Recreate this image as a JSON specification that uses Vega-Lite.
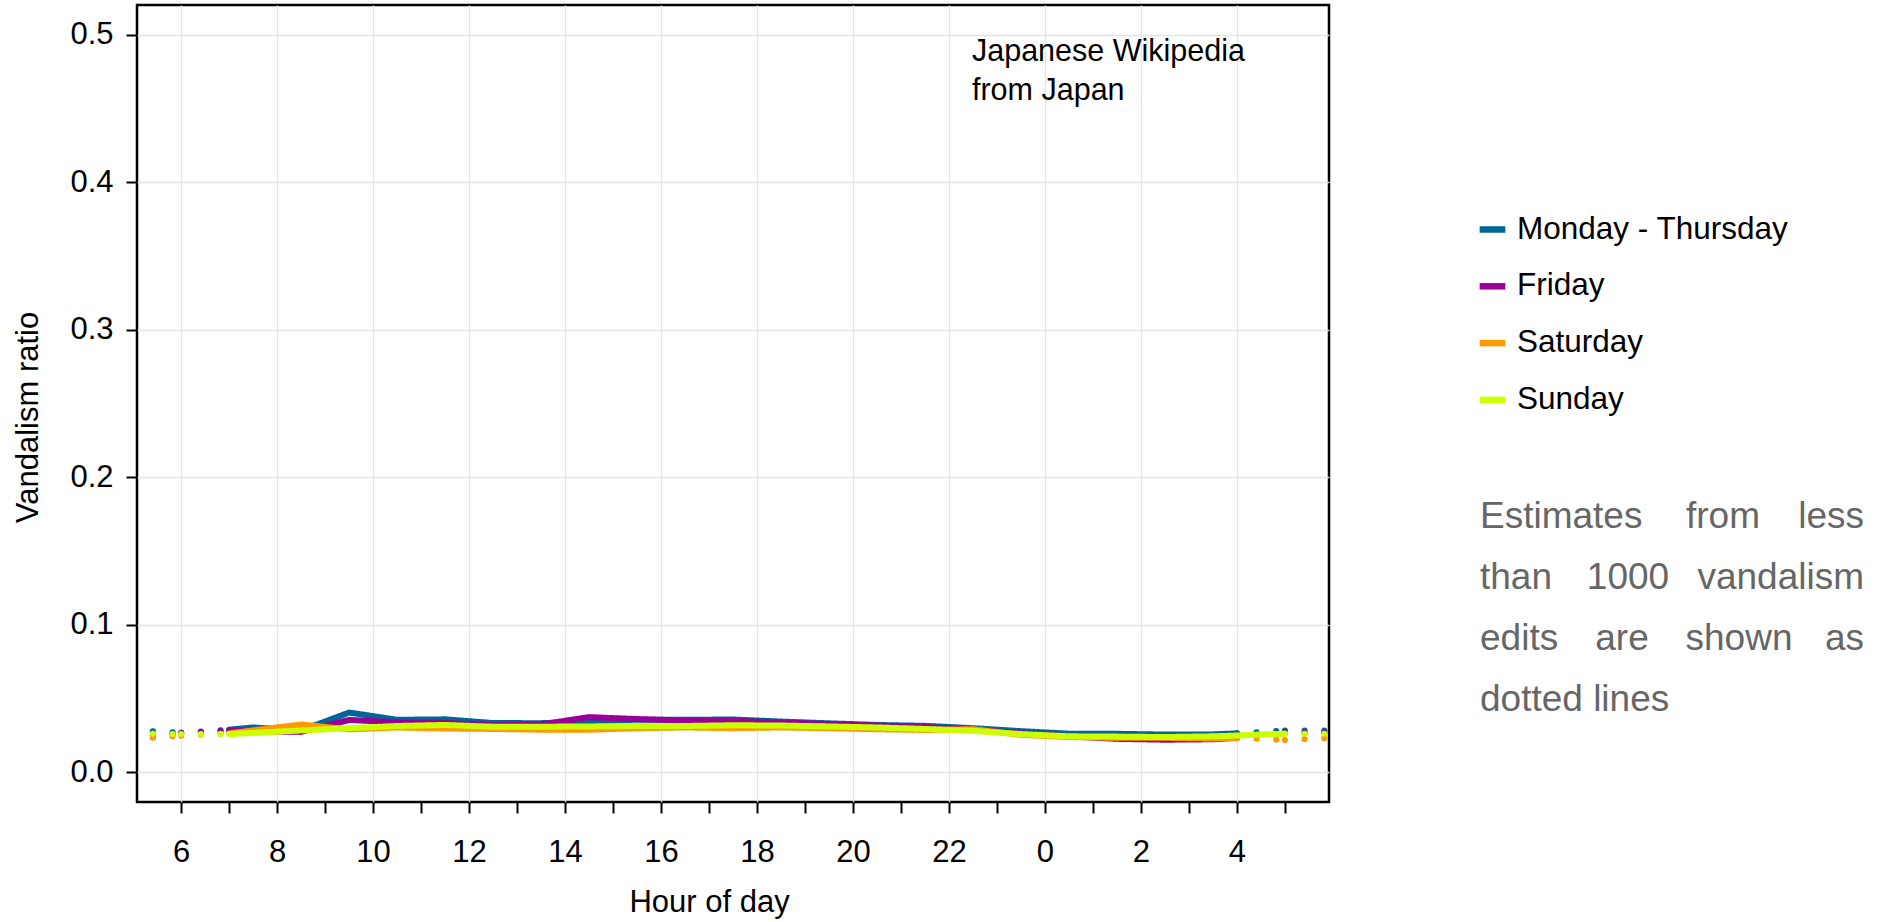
{
  "$schema": "https://vega.github.io/schema/vega-lite/v6.json",
  "width": 1192,
  "height": 797,
  "autosize": {"type": "none"},
  "padding": {"left": 137, "top": 5, "right": 553, "bottom": 120},
  "background": "white",
  "config": {
    "font": "Liberation Sans",
    "view": {"stroke": "#000000", "strokeWidth": 2.5}
  },
  "datasets": {
    "series": [
      {"d": "Monday - Thursday", "k": "dotted", "s": "a", "h": 5, "v": 0.0285},
      {"d": "Monday - Thursday", "k": "dotted", "s": "a", "h": 6, "v": 0.0270},
      {"d": "Monday - Thursday", "k": "dotted", "s": "b", "h": 6, "v": 0.0270},
      {"d": "Monday - Thursday", "k": "dotted", "s": "b", "h": 7, "v": 0.0290},
      {"d": "Monday - Thursday", "k": "solid", "s": "m", "h": 7, "v": 0.0290},
      {"d": "Monday - Thursday", "k": "solid", "s": "m", "h": 7.5, "v": 0.0305},
      {"d": "Monday - Thursday", "k": "solid", "s": "m", "h": 8.5, "v": 0.0285},
      {"d": "Monday - Thursday", "k": "solid", "s": "m", "h": 9.5, "v": 0.0406},
      {"d": "Monday - Thursday", "k": "solid", "s": "m", "h": 10.5, "v": 0.0357},
      {"d": "Monday - Thursday", "k": "solid", "s": "m", "h": 11.5, "v": 0.0360},
      {"d": "Monday - Thursday", "k": "solid", "s": "m", "h": 12.5, "v": 0.0335},
      {"d": "Monday - Thursday", "k": "solid", "s": "m", "h": 13.5, "v": 0.0334},
      {"d": "Monday - Thursday", "k": "solid", "s": "m", "h": 14.5, "v": 0.0345},
      {"d": "Monday - Thursday", "k": "solid", "s": "m", "h": 15.5, "v": 0.0358},
      {"d": "Monday - Thursday", "k": "solid", "s": "m", "h": 16.5, "v": 0.0357},
      {"d": "Monday - Thursday", "k": "solid", "s": "m", "h": 17.5, "v": 0.0359},
      {"d": "Monday - Thursday", "k": "solid", "s": "m", "h": 18.5, "v": 0.0345},
      {"d": "Monday - Thursday", "k": "solid", "s": "m", "h": 19.5, "v": 0.0333},
      {"d": "Monday - Thursday", "k": "solid", "s": "m", "h": 20.5, "v": 0.0322},
      {"d": "Monday - Thursday", "k": "solid", "s": "m", "h": 21.5, "v": 0.0316},
      {"d": "Monday - Thursday", "k": "solid", "s": "m", "h": 22.5, "v": 0.0300},
      {"d": "Monday - Thursday", "k": "solid", "s": "m", "h": 23.5, "v": 0.0280},
      {"d": "Monday - Thursday", "k": "solid", "s": "m", "h": 24.5, "v": 0.0263},
      {"d": "Monday - Thursday", "k": "solid", "s": "m", "h": 25.5, "v": 0.0262},
      {"d": "Monday - Thursday", "k": "solid", "s": "m", "h": 26.5, "v": 0.0257},
      {"d": "Monday - Thursday", "k": "solid", "s": "m", "h": 27.5, "v": 0.0258},
      {"d": "Monday - Thursday", "k": "solid", "s": "m", "h": 28, "v": 0.0265},
      {"d": "Monday - Thursday", "k": "dotted", "s": "c", "h": 28, "v": 0.0265},
      {"d": "Monday - Thursday", "k": "dotted", "s": "c", "h": 29, "v": 0.0285},
      {"d": "Monday - Thursday", "k": "dotted", "s": "e", "h": 29, "v": 0.0285},
      {"d": "Monday - Thursday", "k": "dotted", "s": "e", "h": 30, "v": 0.0285},

      {"d": "Friday", "k": "dotted", "s": "a", "h": 5, "v": 0.0240},
      {"d": "Friday", "k": "dotted", "s": "a", "h": 6, "v": 0.0265},
      {"d": "Friday", "k": "dotted", "s": "b", "h": 6, "v": 0.0265},
      {"d": "Friday", "k": "dotted", "s": "b", "h": 7, "v": 0.0285},
      {"d": "Friday", "k": "solid", "s": "m", "h": 7, "v": 0.0285},
      {"d": "Friday", "k": "solid", "s": "m", "h": 7.5, "v": 0.0280},
      {"d": "Friday", "k": "solid", "s": "m", "h": 8.5, "v": 0.0275},
      {"d": "Friday", "k": "solid", "s": "m", "h": 9.5, "v": 0.0356},
      {"d": "Friday", "k": "solid", "s": "m", "h": 10.5, "v": 0.0340},
      {"d": "Friday", "k": "solid", "s": "m", "h": 11.5, "v": 0.0335},
      {"d": "Friday", "k": "solid", "s": "m", "h": 12.5, "v": 0.0320},
      {"d": "Friday", "k": "solid", "s": "m", "h": 13.5, "v": 0.0325},
      {"d": "Friday", "k": "solid", "s": "m", "h": 14.5, "v": 0.0375},
      {"d": "Friday", "k": "solid", "s": "m", "h": 15.5, "v": 0.0362},
      {"d": "Friday", "k": "solid", "s": "m", "h": 16.5, "v": 0.0352},
      {"d": "Friday", "k": "solid", "s": "m", "h": 17.5, "v": 0.0350},
      {"d": "Friday", "k": "solid", "s": "m", "h": 18.5, "v": 0.0338},
      {"d": "Friday", "k": "solid", "s": "m", "h": 19.5, "v": 0.0328},
      {"d": "Friday", "k": "solid", "s": "m", "h": 20.5, "v": 0.0318},
      {"d": "Friday", "k": "solid", "s": "m", "h": 21.5, "v": 0.0308},
      {"d": "Friday", "k": "solid", "s": "m", "h": 22.5, "v": 0.0290},
      {"d": "Friday", "k": "solid", "s": "m", "h": 23.5, "v": 0.0265},
      {"d": "Friday", "k": "solid", "s": "m", "h": 24.5, "v": 0.0245},
      {"d": "Friday", "k": "solid", "s": "m", "h": 25.5, "v": 0.0228},
      {"d": "Friday", "k": "solid", "s": "m", "h": 26.5, "v": 0.0222},
      {"d": "Friday", "k": "solid", "s": "m", "h": 27.5, "v": 0.0225},
      {"d": "Friday", "k": "solid", "s": "m", "h": 28, "v": 0.0235},
      {"d": "Friday", "k": "dotted", "s": "c", "h": 28, "v": 0.0235},
      {"d": "Friday", "k": "dotted", "s": "c", "h": 29, "v": 0.0265},
      {"d": "Friday", "k": "dotted", "s": "e", "h": 29, "v": 0.0265},
      {"d": "Friday", "k": "dotted", "s": "e", "h": 30, "v": 0.0270},

      {"d": "Saturday", "k": "dotted", "s": "a", "h": 5, "v": 0.0225},
      {"d": "Saturday", "k": "dotted", "s": "a", "h": 6, "v": 0.0250},
      {"d": "Saturday", "k": "dotted", "s": "b", "h": 6, "v": 0.0250},
      {"d": "Saturday", "k": "dotted", "s": "b", "h": 7, "v": 0.0265},
      {"d": "Saturday", "k": "solid", "s": "m", "h": 7, "v": 0.0265},
      {"d": "Saturday", "k": "solid", "s": "m", "h": 7.5, "v": 0.0285},
      {"d": "Saturday", "k": "solid", "s": "m", "h": 8.5, "v": 0.0325},
      {"d": "Saturday", "k": "solid", "s": "m", "h": 9.5, "v": 0.0292},
      {"d": "Saturday", "k": "solid", "s": "m", "h": 10.5, "v": 0.0305},
      {"d": "Saturday", "k": "solid", "s": "m", "h": 11.5, "v": 0.0298},
      {"d": "Saturday", "k": "solid", "s": "m", "h": 12.5, "v": 0.0295},
      {"d": "Saturday", "k": "solid", "s": "m", "h": 13.5, "v": 0.0290},
      {"d": "Saturday", "k": "solid", "s": "m", "h": 14.5, "v": 0.0290},
      {"d": "Saturday", "k": "solid", "s": "m", "h": 15.5, "v": 0.0300},
      {"d": "Saturday", "k": "solid", "s": "m", "h": 16.5, "v": 0.0305},
      {"d": "Saturday", "k": "solid", "s": "m", "h": 17.5, "v": 0.0300},
      {"d": "Saturday", "k": "solid", "s": "m", "h": 18.5, "v": 0.0305},
      {"d": "Saturday", "k": "solid", "s": "m", "h": 19.5, "v": 0.0300},
      {"d": "Saturday", "k": "solid", "s": "m", "h": 20.5, "v": 0.0293},
      {"d": "Saturday", "k": "solid", "s": "m", "h": 21.5, "v": 0.0288},
      {"d": "Saturday", "k": "solid", "s": "m", "h": 22.5, "v": 0.0293},
      {"d": "Saturday", "k": "solid", "s": "m", "h": 23.5, "v": 0.0255},
      {"d": "Saturday", "k": "solid", "s": "m", "h": 24.5, "v": 0.0240},
      {"d": "Saturday", "k": "solid", "s": "m", "h": 25.5, "v": 0.0235},
      {"d": "Saturday", "k": "solid", "s": "m", "h": 26.5, "v": 0.0235},
      {"d": "Saturday", "k": "solid", "s": "m", "h": 27.5, "v": 0.0230},
      {"d": "Saturday", "k": "solid", "s": "m", "h": 28, "v": 0.0235},
      {"d": "Saturday", "k": "dotted", "s": "c", "h": 28, "v": 0.0235},
      {"d": "Saturday", "k": "dotted", "s": "c", "h": 29, "v": 0.0220},
      {"d": "Saturday", "k": "dotted", "s": "e", "h": 29, "v": 0.0220},
      {"d": "Saturday", "k": "dotted", "s": "e", "h": 30, "v": 0.0235},

      {"d": "Sunday", "k": "dotted", "s": "a", "h": 5, "v": 0.0265},
      {"d": "Sunday", "k": "dotted", "s": "a", "h": 6, "v": 0.0260},
      {"d": "Sunday", "k": "dotted", "s": "b", "h": 6, "v": 0.0260},
      {"d": "Sunday", "k": "dotted", "s": "b", "h": 7, "v": 0.0260},
      {"d": "Sunday", "k": "solid", "s": "m", "h": 7, "v": 0.0260},
      {"d": "Sunday", "k": "solid", "s": "m", "h": 7.5, "v": 0.0268},
      {"d": "Sunday", "k": "solid", "s": "m", "h": 8.5, "v": 0.0285},
      {"d": "Sunday", "k": "solid", "s": "m", "h": 9.5, "v": 0.0300},
      {"d": "Sunday", "k": "solid", "s": "m", "h": 10.5, "v": 0.0315},
      {"d": "Sunday", "k": "solid", "s": "m", "h": 11.5, "v": 0.0322},
      {"d": "Sunday", "k": "solid", "s": "m", "h": 12.5, "v": 0.0310},
      {"d": "Sunday", "k": "solid", "s": "m", "h": 13.5, "v": 0.0310},
      {"d": "Sunday", "k": "solid", "s": "m", "h": 14.5, "v": 0.0312},
      {"d": "Sunday", "k": "solid", "s": "m", "h": 15.5, "v": 0.0315},
      {"d": "Sunday", "k": "solid", "s": "m", "h": 16.5, "v": 0.0315},
      {"d": "Sunday", "k": "solid", "s": "m", "h": 17.5, "v": 0.0320},
      {"d": "Sunday", "k": "solid", "s": "m", "h": 18.5, "v": 0.0318},
      {"d": "Sunday", "k": "solid", "s": "m", "h": 19.5, "v": 0.0312},
      {"d": "Sunday", "k": "solid", "s": "m", "h": 20.5, "v": 0.0305},
      {"d": "Sunday", "k": "solid", "s": "m", "h": 21.5, "v": 0.0295},
      {"d": "Sunday", "k": "solid", "s": "m", "h": 22.5, "v": 0.0282},
      {"d": "Sunday", "k": "solid", "s": "m", "h": 23.5, "v": 0.0260},
      {"d": "Sunday", "k": "solid", "s": "m", "h": 24.5, "v": 0.0245},
      {"d": "Sunday", "k": "solid", "s": "m", "h": 25.5, "v": 0.0243},
      {"d": "Sunday", "k": "solid", "s": "m", "h": 26.5, "v": 0.0240},
      {"d": "Sunday", "k": "solid", "s": "m", "h": 27.5, "v": 0.0245},
      {"d": "Sunday", "k": "solid", "s": "m", "h": 28, "v": 0.0250},
      {"d": "Sunday", "k": "solid", "s": "m", "h": 28.5, "v": 0.0258},
      {"d": "Sunday", "k": "solid", "s": "m", "h": 29, "v": 0.0262},
      {"d": "Sunday", "k": "dotted", "s": "e", "h": 29, "v": 0.0262},
      {"d": "Sunday", "k": "dotted", "s": "e", "h": 30, "v": 0.0262}
    ]
  },
  "layer": [
    {
      "data": {"name": "series"},
      "mark": {"type": "line", "strokeWidth": 6, "strokeCap": "round", "strokeJoin": "round", "clip": true},
      "encoding": {
        "x": {
          "field": "h", "type": "quantitative",
          "scale": {"domain": [5.08, 29.92], "nice": false, "zero": false},
          "axis": {
            "values": [6,7,8,9,10,11,12,13,14,15,16,17,18,19,20,21,22,23,24,25,26,27,28,29],
            "domain": false,
            "tickSize": 11, "tickWidth": 2, "tickColor": "#000000",
            "grid": true, "gridColor": "#e3e3e3", "gridWidth": 1.3,
            "gridOpacity": {"condition": {"test": "datum.value % 2 === 0", "value": 1}, "value": 0},
            "labelExpr": "datum.value % 2 === 0 ? format(datum.value % 24, 'd') : ''",
            "labelFontSize": 31, "labelColor": "#000000", "labelBaseline": "middle",
            "labelPadding": 39, "labelFlush": false, "labelOverlap": false,
            "title": "Hour of day", "titleFontSize": 31, "titleFontWeight": "normal", "titleColor": "#000000",
            "titleX": 572, "titleY": 109, "titleAlign": "center", "titleBaseline": "alphabetic"
          }
        },
        "y": {
          "field": "v", "type": "quantitative",
          "scale": {"domain": [-0.02, 0.52], "nice": false, "zero": false},
          "axis": {
            "values": [0, 0.1, 0.2, 0.3, 0.4, 0.5], "format": ".1f",
            "domain": false,
            "tickSize": 11, "tickWidth": 2, "tickColor": "#000000",
            "grid": true, "gridColor": "#e3e3e3", "gridWidth": 1.3,
            "labelFontSize": 31, "labelColor": "#000000", "labelPadding": 13,
            "title": "Vandalism ratio", "titleFontSize": 31, "titleFontWeight": "normal", "titleColor": "#000000",
            "titleX": -100, "titleY": 412, "titleAngle": 270, "titleAlign": "center", "titleBaseline": "alphabetic"
          }
        },
        "color": {
          "field": "d", "type": "nominal",
          "scale": {
            "domain": ["Monday - Thursday", "Friday", "Saturday", "Sunday"],
            "range": ["#006699", "#990099", "#ff9900", "#ccff00"]
          },
          "legend": {
            "orient": "none", "legendX": 1339, "legendY": 208, "title": null, "padding": 0,
            "symbolType": "stroke", "symbolSize": 660, "symbolStrokeWidth": 6.5,
            "labelFontSize": 31.5, "labelColor": "#000000", "labelOffset": 8,
            "rowPadding": 24.8, "labelLimit": 500
          }
        },
        "strokeDash": {
          "field": "k", "type": "nominal",
          "scale": {"domain": ["solid", "dotted"], "range": [[1, 0], [0.1, 19.6]]},
          "legend": null
        },
        "detail": {"field": "s"},
        "order": {"field": "h", "type": "quantitative"}
      }
    },
    {
      "data": {"values": [{"n": 1}]},
      "mark": {"type": "text", "text": ["Japanese Wikipedia", "from Japan"], "align": "left", "baseline": "alphabetic", "fontSize": 30.5, "lineHeight": 39, "color": "#000000"},
      "encoding": {"x": {"datum": 22.48}, "y": {"datum": 0.4822}}
    },
    {
      "data": {"values": [{"n": 1}]},
      "mark": {"type": "text", "text": ["Estimates", "than", "edits", "dotted lines"], "align": "left", "baseline": "alphabetic", "fontSize": 37, "lineHeight": 61, "color": "#666666"},
      "encoding": {"x": {"value": 1343}, "y": {"value": 523.4}}
    },
    {
      "data": {"values": [{"n": 1}]},
      "mark": {"type": "text", "text": ["less", "vandalism", "as"], "align": "right", "baseline": "alphabetic", "fontSize": 37, "lineHeight": 61, "color": "#666666"},
      "encoding": {"x": {"value": 1727}, "y": {"value": 523.4}}
    },
    {
      "data": {"values": [{"n": 1}]},
      "mark": {"type": "text", "text": "from", "align": "center", "baseline": "alphabetic", "fontSize": 37, "color": "#666666"},
      "encoding": {"x": {"value": 1586}, "y": {"value": 523.4}}
    },
    {
      "data": {"values": [{"n": 1}]},
      "mark": {"type": "text", "text": "1000", "align": "center", "baseline": "alphabetic", "fontSize": 37, "color": "#666666"},
      "encoding": {"x": {"value": 1491}, "y": {"value": 584.4}}
    },
    {
      "data": {"values": [{"n": 1}]},
      "mark": {"type": "text", "text": "are", "align": "center", "baseline": "alphabetic", "fontSize": 37, "color": "#666666"},
      "encoding": {"x": {"value": 1485}, "y": {"value": 645.4}}
    },
    {
      "data": {"values": [{"n": 1}]},
      "mark": {"type": "text", "text": "shown", "align": "center", "baseline": "alphabetic", "fontSize": 37, "color": "#666666"},
      "encoding": {"x": {"value": 1602}, "y": {"value": 645.4}}
    }
  ]
}
